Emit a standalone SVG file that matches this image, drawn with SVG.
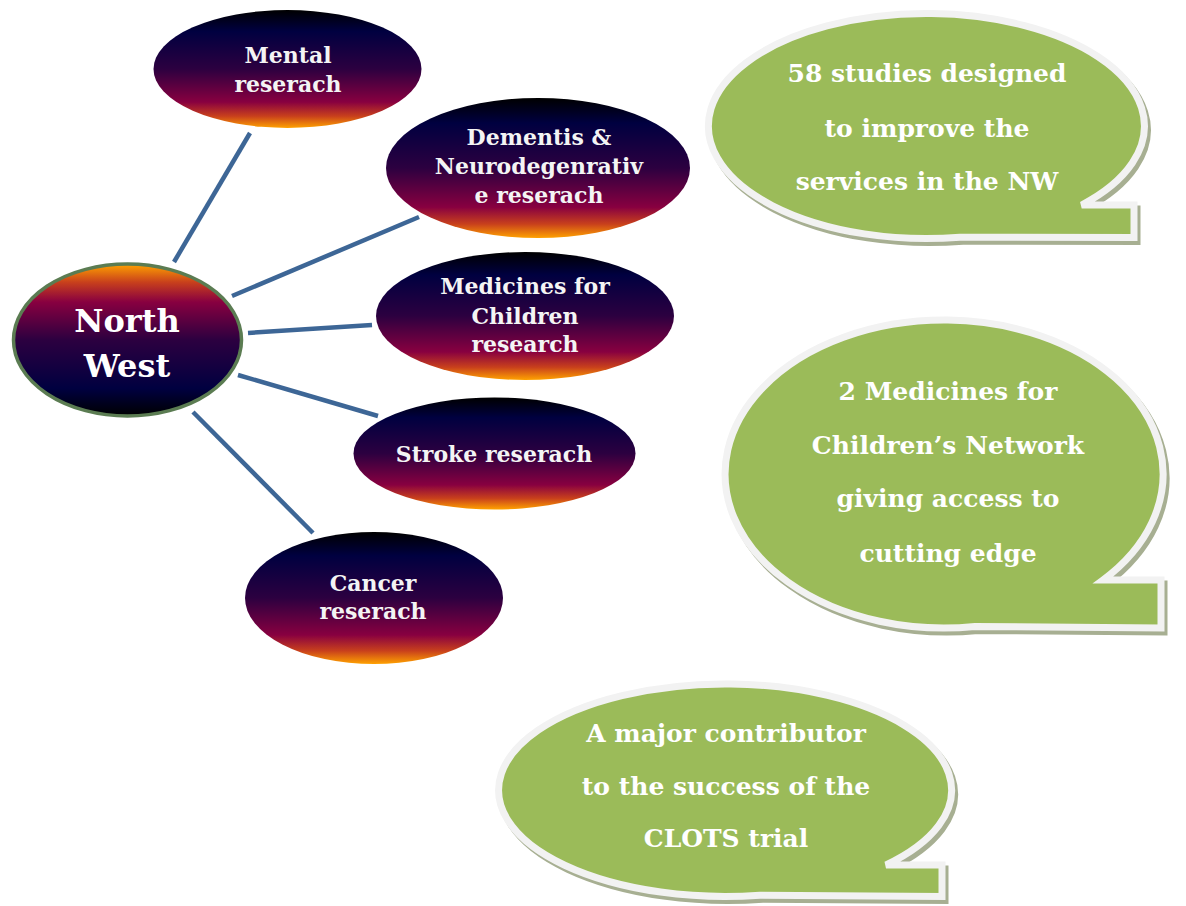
<svg xmlns="http://www.w3.org/2000/svg" width="1186" height="906" viewBox="0 0 1186 906">
<defs>
<linearGradient id="sunset" x1="0" y1="0" x2="0" y2="1">
<stop offset="0" stop-color="#000000"/>
<stop offset="0.18" stop-color="#000040"/>
<stop offset="0.5" stop-color="#2c0040"/>
<stop offset="0.78" stop-color="#880040"/>
<stop offset="0.9" stop-color="#c8401c"/>
<stop offset="1" stop-color="#ffa200"/>
</linearGradient>
<linearGradient id="sunsetRev" x1="0" y1="1" x2="0" y2="0">
<stop offset="0" stop-color="#000000"/>
<stop offset="0.18" stop-color="#000040"/>
<stop offset="0.5" stop-color="#2c0040"/>
<stop offset="0.75" stop-color="#880040"/>
<stop offset="0.88" stop-color="#c8401c"/>
<stop offset="1" stop-color="#ffa200"/>
</linearGradient>
</defs>
<style>
.conn{stroke:#3d6696;stroke-width:4.5;fill:none}
.node{fill:url(#sunset)}
.lbl{font-family:"DejaVu Serif","Liberation Serif",serif;font-weight:bold;font-size:22px;fill:#f4f4f4;text-anchor:middle}
.big{font-family:"DejaVu Serif","Liberation Serif",serif;font-weight:bold;font-size:25px;fill:#ffffff;text-anchor:middle}
.shadow{fill:#a7af92;stroke:#a7af92;stroke-width:7}
.bubble{fill:#9bbb59;stroke:#f2f2f2;stroke-width:7;stroke-linejoin:miter}
</style>
<rect width="1186" height="906" fill="#ffffff"/>
<g id="connectors">
<line class="conn" x1="174" y1="262" x2="250" y2="133"/>
<line class="conn" x1="232" y1="296" x2="419" y2="217"/>
<line class="conn" x1="248" y1="333" x2="372" y2="325"/>
<line class="conn" x1="238" y1="375" x2="378" y2="416"/>
<line class="conn" x1="193" y1="412" x2="313" y2="533"/>
</g>
<g id="north-west">
<ellipse cx="127.5" cy="340" rx="114" ry="76" fill="url(#sunsetRev)" stroke="#5b7c52" stroke-width="3.5"/>
<text x="127" y="332" font-family="DejaVu Serif, serif" font-weight="bold" font-size="32" fill="#ffffff" text-anchor="middle">North</text>
<text x="127" y="377" font-family="DejaVu Serif, serif" font-weight="bold" font-size="32" fill="#ffffff" text-anchor="middle">West</text>
</g>
<g id="mental">
<ellipse class="node" cx="287.5" cy="69" rx="134" ry="59"/>
<text class="lbl" x="288" y="63">Mental</text>
<text class="lbl" x="288" y="92">reserach</text>
</g>
<g id="dementis">
<ellipse class="node" cx="538" cy="168" rx="152" ry="70"/>
<text class="lbl" x="539" y="145">Dementis &amp;</text>
<text class="lbl" x="539" y="174">Neurodegenrativ</text>
<text class="lbl" x="539" y="203">e reserach</text>
</g>
<g id="medicines">
<ellipse class="node" cx="525" cy="316" rx="149" ry="64"/>
<text class="lbl" x="525" y="294">Medicines for</text>
<text class="lbl" x="525" y="324">Children</text>
<text class="lbl" x="525" y="352">research</text>
</g>
<g id="stroke">
<ellipse class="node" cx="494.5" cy="453.5" rx="141" ry="56"/>
<text class="lbl" x="494" y="462">Stroke reserach</text>
</g>
<g id="cancer">
<ellipse class="node" cx="374" cy="598" rx="129" ry="66"/>
<text class="lbl" x="373" y="591">Cancer</text>
<text class="lbl" x="373" y="619">reserach</text>
</g>
<g id="bubble-studies">
<path class="shadow" transform="translate(3,4)" d="M1081.7 205 A218 112.5 0 1 0 960 237.2 L1134 237.5 L1134 205 Z"/>
<path class="bubble" d="M1081.7 205 A218 112.5 0 1 0 960 237.2 L1134 237.5 L1134 205 Z"/>
<text class="big" x="927" y="82">58 studies designed</text>
<text class="big" x="927" y="137">to improve the</text>
<text class="big" x="927" y="190">services in the NW</text>
</g>
<g id="bubble-medicines">
<path class="shadow" transform="translate(3,4)" d="M1103 580 A219 154 0 1 0 975 626.5 L1161 628 L1161 580 Z"/>
<path class="bubble" d="M1103 580 A219 154 0 1 0 975 626.5 L1161 628 L1161 580 Z"/>
<text class="big" x="948" y="400">2 Medicines for</text>
<text class="big" x="948" y="454">Children’s Network</text>
<text class="big" x="948" y="507">giving access to</text>
<text class="big" x="948" y="562">cutting edge</text>
</g>
<g id="bubble-clots">
<path class="shadow" transform="translate(3,4)" d="M886 865 A226.5 106.25 0 1 0 760 895.2 L942 896.5 L942 865 Z"/>
<path class="bubble" d="M886 865 A226.5 106.25 0 1 0 760 895.2 L942 896.5 L942 865 Z"/>
<text class="big" x="726" y="742">A major contributor</text>
<text class="big" x="726" y="795">to the success of the</text>
<text class="big" x="726" y="847">CLOTS trial</text>
</g>
</svg>
